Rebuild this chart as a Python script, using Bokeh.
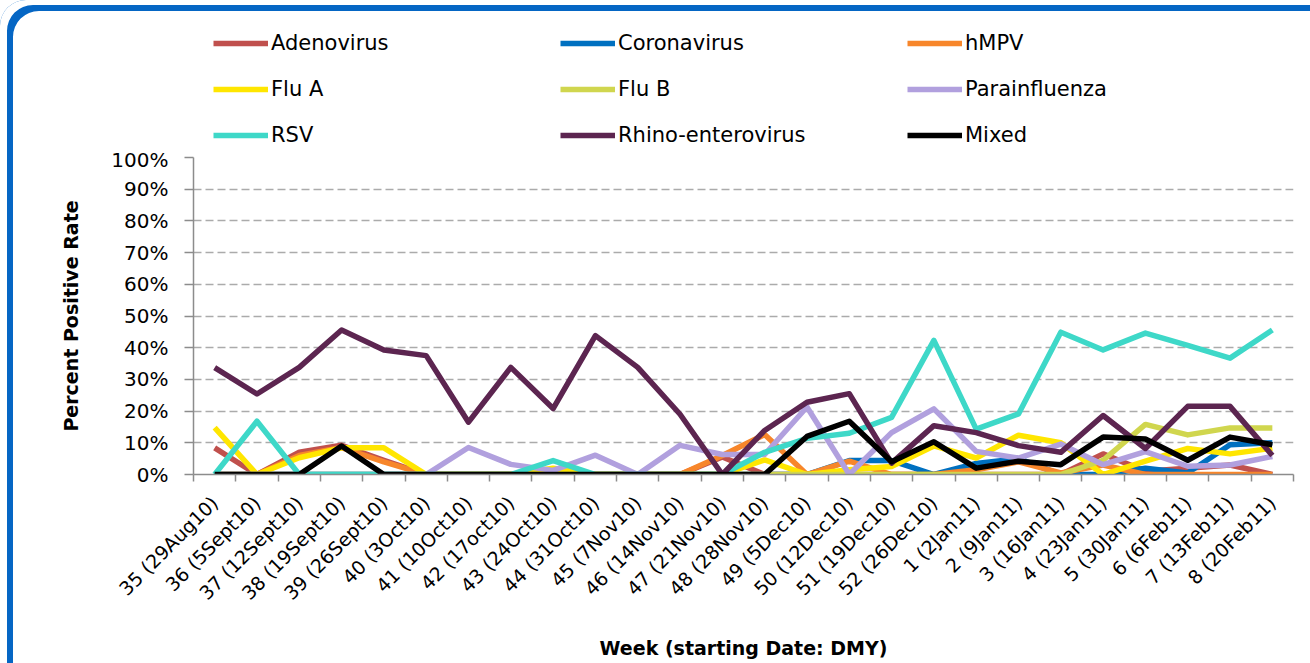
import math
from bokeh.plotting import figure
from bokeh.layouts import column
from bokeh.models import Range1d, FixedTicker, PrintfTickFormatter, Legend, LegendItem
from bokeh.embed import file_html
from bokeh.resources import INLINE

weeks = ["35 (29Aug10)", "36 (5Sept10)", "37 (12Sept10)", "38 (19Sept10)", "39 (26Sept10)",
         "40 (3Oct10)", "41 (10Oct10)", "42 (17oct10)", "43 (24Oct10)", "44 (31Oct10)",
         "45 (7Nov10)", "46 (14Nov10)", "47 (21Nov10)", "48 (28Nov10)", "49 (5Dec10)",
         "50 (12Dec10)", "51 (19Dec10)", "52 (26Dec10)", "1 (2Jan11)", "2 (9Jan11)",
         "3 (16Jan11)", "4 (23Jan11)", "5 (30Jan11)", "6 (6Feb11)", "7 (13Feb11)", "8 (20Feb11)"]

adenovirus = [8.4, 0, 7, 9.2, 4.5, 0, 0, 0, 0, 0, 0, 0, 5.5, 0, 0, 0, 0, 0, 0, 0, 0, 6.5, 1, 2, 3, 0]
coronavirus = [0, 0, 0, 0, 0, 0, 0, 0, 0, 0, 0, 0, 0, 0, 0, 4.4, 4.4, 0, 3.5, 5, 0, 0, 2, 0.5, 9.4, 10]
hmpv = [0, 0, 6, 8.5, 4, 0, 0, 0, 0, 0, 0, 0, 6, 12.6, 0, 4.2, 0, 0, 1.5, 4, 0.5, 3, 0, 0, 0, 0]
flu_a = [14.8, 0, 5.3, 8.4, 8.4, 0, 0, 0, 2, 0, 0, 0, 0, 4.6, 0, 1.5, 2.5, 9, 5.2, 12.4, 10, 0, 4.2, 8.2, 6.5, 8.3]
flu_b = [0, 0, 0, 0, 0, 0, 0, 0, 0, 0, 0, 0, 0, 0, 0, 0, 0, 0, 0, 0, 0, 4.5, 15.8, 12.5, 14.7, 14.7]
parainfluenza = [0, 0, 0, 0, 0, 0, 8.5, 3.2, 1.3, 6.1, 0, 9.2, 6.3, 6.3, 21.3, 0, 13.2, 20.7, 7.3, 5.2, 9.6, 3.1, 7.2, 2.6, 3, 5.7]
rsv = [0, 16.8, 0, 0, 0, 0, 0, 0, 4.4, 0, 0, 0, 0, 7, 11.4, 13, 18, 42.3, 14.3, 19.1, 44.9, 39.3, 44.6, 40.7, 36.7, 45.6]
rhino_enterovirus = [33.7, 25.4, 33.8, 45.6, 39.3, 37.5, 16.5, 33.8, 20.8, 43.8, 33.8, 19, 0, 13.9, 22.8, 25.5, 3.6, 15.4, 13.2, 9.1, 7, 18.6, 8.2, 21.5, 21.5, 6]
mixed = [0, 0, 0, 9, 0, 0, 0, 0, 0, 0, 0, 0, 0, 0, 12, 16.8, 4, 10.3, 2, 4.2, 3.1, 11.8, 11.2, 4.5, 11.8, 9.4]

series_names = ["Adenovirus", "Coronavirus", "hMPV", "Flu A", "Flu B", "Parainfluenza",
                "RSV", "Rhino-enterovirus", "Mixed"]
series_values = [adenovirus, coronavirus, hmpv, flu_a, flu_b, parainfluenza, rsv, rhino_enterovirus, mixed]
series_colors = ["#C0504D", "#0070C0", "#F7862B", "#FFE600", "#D0D64E", "#B1A0DE",
                 "#3ED8C8", "#5C2550", "#000000"]

y_ticks = list(range(0, 101, 10))

FONT = "DejaVu Sans"
W = 1310
LEG_H = 147
MAIN_H = 663 - LEG_H
n = len(weeks)
xs = [i + 0.5 for i in range(n)]
LW = 5.5
NAN = float("nan")

# ---------- legend strip (frame is aligned with the main chart's frame by the column layout) ----------
pl = figure(width=W, height=LEG_H, output_backend="svg", toolbar_location=None,
            x_range=Range1d(0, 1), y_range=Range1d(0, 1),
            x_axis_location=None, y_axis_location=None,
            min_border_left=0, min_border_right=0, min_border_top=0, min_border_bottom=0)
pl.outline_line_color = None
pl.grid.visible = False
pl.background_fill_alpha = 0
pl.border_fill_alpha = 0

leg_items = []
for name, color in zip(series_names, series_colors):
    r = pl.line(x=[NAN], y=[NAN], line_color=color, line_width=LW)
    leg_items.append(LegendItem(label=name, renderers=[r]))

legend = Legend(items=leg_items, orientation="horizontal", ncols=3, location=(20, 0),
                glyph_width=55, glyph_height=24, label_height=24, label_width=267,
                label_standoff=3, spacing=22, padding=0, margin=0,
                border_line_color=None, background_fill_alpha=0,
                label_text_font=FONT, label_text_font_size="21px", label_text_color="black")
pl.add_layout(legend, "center")

# ---------- main chart ----------
p = figure(width=W, height=MAIN_H, output_backend="svg", toolbar_location=None,
           x_range=Range1d(0, n), y_range=Range1d(0, 100),
           min_border_left=193, min_border_right=17, min_border_top=10, min_border_bottom=189)
p.outline_line_color = None
p.background_fill_color = "white"
p.border_fill_alpha = 0

p.xgrid.visible = False
p.ygrid.ticker = FixedTicker(ticks=y_ticks)
p.ygrid.grid_line_color = "#ABABAB"
p.ygrid.grid_line_width = 1.6
p.ygrid.grid_line_dash = "8 4"

ya = p.yaxis[0]
ya.ticker = FixedTicker(ticks=y_ticks)
ya.formatter = PrintfTickFormatter(format="%d%%")
ya.major_tick_out = 9
ya.major_tick_in = 0
ya.minor_tick_out = 0
ya.minor_tick_in = 0
ya.axis_line_color = "#8C8C8C"
ya.axis_line_width = 1.5
ya.major_tick_line_color = "#8C8C8C"
ya.major_tick_line_width = 1.5
ya.major_label_standoff = 16
ya.major_label_text_font = FONT
ya.major_label_text_font_size = "20px"
ya.major_label_text_color = "black"
ya.axis_label = "Percent Positive Rate"
ya.axis_label_text_font = FONT
ya.axis_label_text_font_size = "19px"
ya.axis_label_text_font_style = "bold"
ya.axis_label_text_color = "black"
ya.axis_label_standoff = 26

xa = p.xaxis[0]
xa.ticker = FixedTicker(ticks=xs, minor_ticks=list(range(n + 1)))
xa.major_label_overrides = {x: w for x, w in zip(xs, weeks)}
xa.major_label_orientation = math.pi / 4
xa.major_tick_out = 0
xa.major_tick_in = 0
xa.minor_tick_out = 7
xa.minor_tick_in = 0
xa.minor_tick_line_color = "#8C8C8C"
xa.minor_tick_line_width = 1.5
xa.axis_line_color = "#8C8C8C"
xa.axis_line_width = 1.5
xa.major_label_standoff = 18
xa.major_label_text_font = FONT
xa.major_label_text_font_size = "19px"
xa.major_label_text_color = "black"
xa.axis_label = "Week (starting Date: DMY)"
xa.axis_label_text_font = FONT
xa.axis_label_text_font_size = "19px"
xa.axis_label_text_font_style = "bold"
xa.axis_label_text_color = "black"
xa.axis_label_standoff = 22

for vals, color in zip(series_values, series_colors):
    p.line(xs, vals, line_color=color, line_width=LW, line_join="round")

layout = column(pl, p, spacing=0, styles={
    "border-top-left-radius": "26px",
    "box-shadow": "inset 7px 5px 0 0 white, inset 13px 11px 0 0 #0566C4",
})

open("out.html", "w").write(file_html(layout, INLINE))
